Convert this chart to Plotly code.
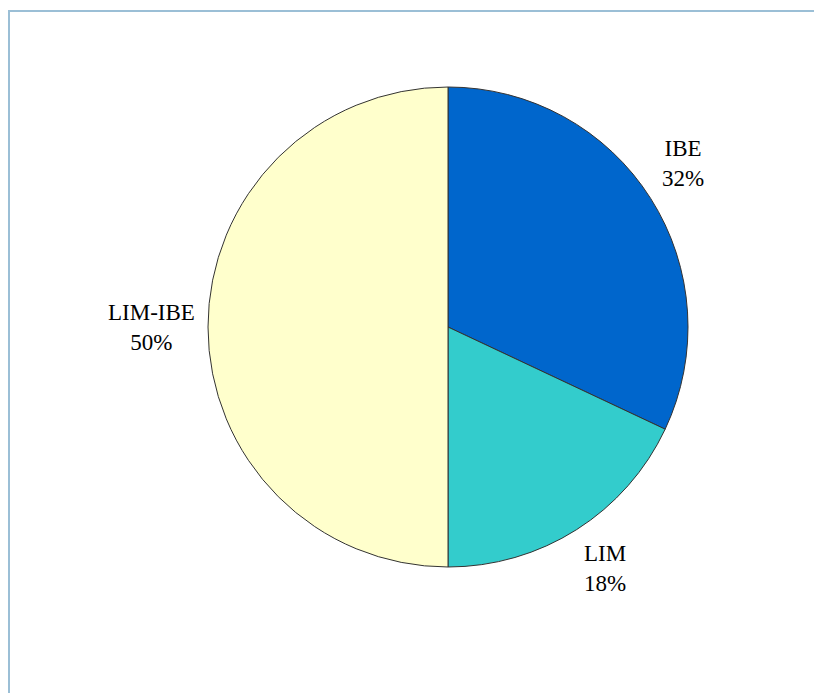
import math
import plotly.graph_objects as go

labels = ["IBE", "LIM", "LIM-IBE"]
values = [32, 18, 50]
colors = ["#0066CC", "#33CCCC", "#FFFFCC"]

W, H = 822, 693
L, T, D = 200, 79, 480          # pie domain (div pixels)
R, B = W - L - D, H - T - D
cx, cy, rad = L + D / 2, T + D / 2, D / 2
gap = 11

fig = go.Figure(go.Pie(
    labels=labels, values=values, sort=False, direction="clockwise", rotation=0,
    marker=dict(colors=colors, line=dict(color="#333333", width=1)),
    textinfo="none", showlegend=False, hoverinfo="label+percent",
))

def px_x(x):
    return (x - L) / D

def px_y(y):
    return (H - B - y) / D

annotations = []
total = sum(values)
cum = 0
for lab, v in zip(labels, values):
    mid = (cum + v / 2) / total * 2 * math.pi
    cum += v
    s, c = math.sin(mid), math.cos(mid)
    x = cx + (rad + gap) * s
    y = cy - (rad + gap) * c
    xa = "left" if s > 0.1 else ("right" if s < -0.1 else "center")
    ya = "bottom" if c > 0.1 else ("top" if c < -0.1 else "middle")
    annotations.append(dict(
        x=px_x(x), y=px_y(y), xref="paper", yref="paper",
        xanchor=xa, yanchor=ya, align="center", showarrow=False,
        text=f"{lab}<br>{round(v / total * 100)}%",
        font=dict(family="Liberation Serif", size=23, color="#000000"),
    ))

fig.update_layout(
    width=W, height=H, margin=dict(l=L, r=R, t=T, b=B),
    paper_bgcolor="white", plot_bgcolor="white",
    annotations=annotations,
    shapes=[
        dict(type="line", xref="paper", yref="paper", x0=px_x(1), x1=px_x(1), y0=px_y(2), y1=px_y(H + 5),
             line=dict(color="#9BBFD6", width=2)),
        dict(type="line", xref="paper", yref="paper", x0=px_x(0), x1=px_x(W + 5), y0=px_y(3), y1=px_y(3),
             line=dict(color="#9BBFD6", width=2)),
    ],
)
fig.write_html("out.html")
